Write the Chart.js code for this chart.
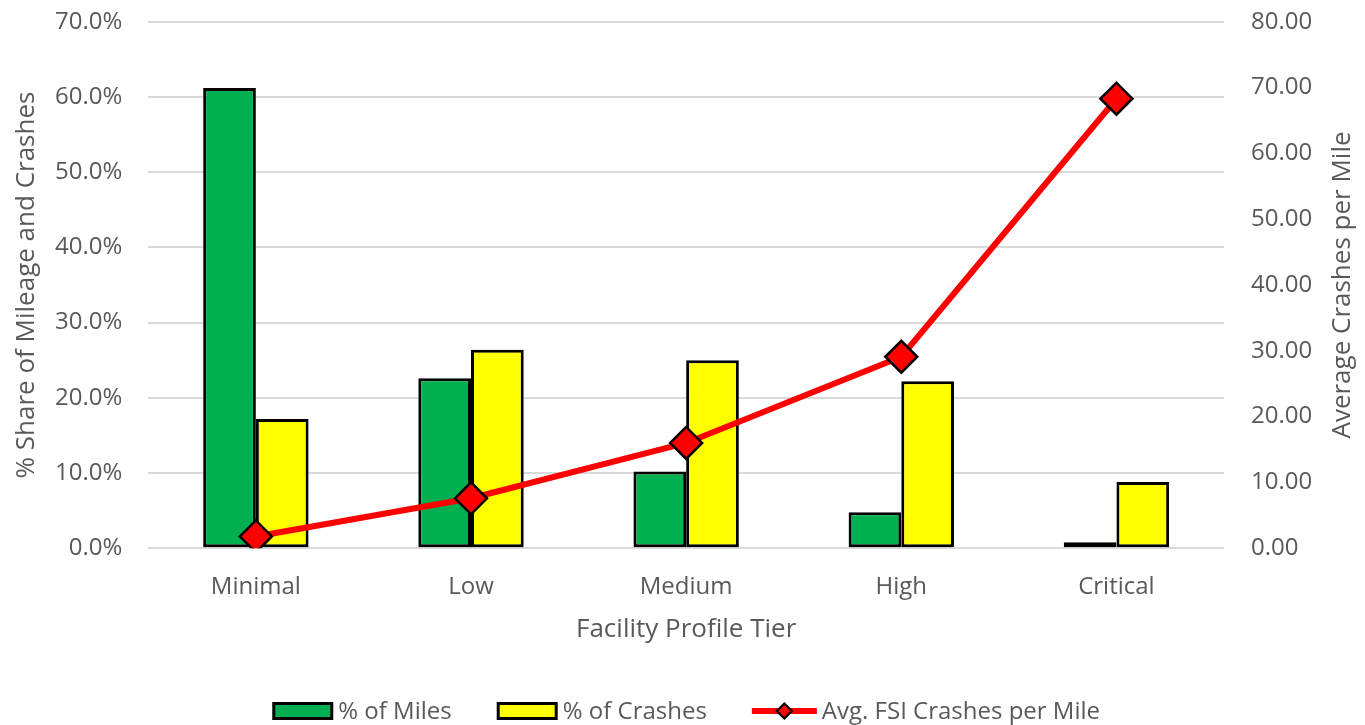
<!DOCTYPE html>
<html>
<head>
<meta charset="utf-8">
<title>Facility Profile Tier</title>
<script src="https://cdn.jsdelivr.net/npm/chart.js@4/dist/chart.umd.min.js"></script>
<style>
  html, body { margin: 0; padding: 0; background: #ffffff; }
  #wrap { width: 1365px; height: 725px; }
</style>
</head>
<body>
<div id="wrap"><canvas id="chart" width="1365" height="725"></canvas></div>
<script>
// Categories and series
const tiers = ['Minimal', 'Low', 'Medium', 'High', 'Critical'];
const pctMiles = [61.2, 22.6, 10.2, 4.8, 0.8];        // % of Miles
const pctCrashes = [17.2, 26.4, 25.0, 22.2, 8.8];     // % of Crashes
const fsiPerMile = [1.8, 7.6, 16.0, 29.1, 68.3];      // Avg. FSI Crashes per Mile
const seriesNames = ['% of Miles', '% of Crashes', 'Avg. FSI Crashes per Mile'];
const axisTitles = {
  left: '% Share of Mileage and Crashes',
  right: 'Average Crashes per Mile',
  bottom: 'Facility Profile Tier'
};

const GREEN = '#00B050';
const YELLOW = '#FFFF00';
const RED = '#FF0000';
const TEXT = '#595959';
const GRID = '#D9D9D9';
const FONT = "'Open Sans', 'Noto Sans', sans-serif";
const TITLE_SIZE = 26;

Chart.defaults.font.family = FONT;
Chart.defaults.font.size = 24;
Chart.defaults.color = TEXT;

// Right-hand axis title, read bottom-to-top like the left one
const rightTitlePlugin = {
  id: 'rightTitle',
  afterDraw(chart) {
    const s = chart.scales.y1;
    const ctx = chart.ctx;
    ctx.save();
    ctx.font = TITLE_SIZE + 'px ' + FONT;
    ctx.fillStyle = TEXT;
    ctx.textAlign = 'center';
    ctx.textBaseline = 'middle';
    ctx.translate(s.right - 22, (s.top + s.bottom) / 2);
    ctx.rotate(-Math.PI / 2);
    ctx.fillText(axisTitles.right, 0, 0);
    ctx.restore();
  }
};

// Legend row under the axis title: outlined boxes for bars, line + diamond for the line
const legendPlugin = {
  id: 'bottomLegend',
  afterDraw(chart) {
    const ctx = chart.ctx;
    const ds = chart.data.datasets;
    const rowY = 711;
    const boxW = 61, boxH = 18, gap = 5, spacing = 45;
    ctx.save();
    ctx.font = '24px ' + FONT;
    ctx.textBaseline = 'middle';
    const widths = ds.map(d => ctx.measureText(d.label).width);
    const swW = ds.map(d => d.type === 'line' ? 65 : boxW);
    let total = 0;
    ds.forEach((d, i) => { total += swW[i] + gap + widths[i] + (i < ds.length - 1 ? spacing : 0); });
    let x = (chart.chartArea.left + chart.chartArea.right) / 2 - total / 2;
    ds.forEach((d, i) => {
      if (d.type === 'line') {
        ctx.strokeStyle = d.borderColor;
        ctx.lineWidth = 6;
        ctx.beginPath(); ctx.moveTo(x, rowY); ctx.lineTo(x + swW[i], rowY); ctx.stroke();
        const cx = x + swW[i] / 2, r = 7.5;
        ctx.beginPath();
        ctx.moveTo(cx, rowY - r); ctx.lineTo(cx + r, rowY); ctx.lineTo(cx, rowY + r); ctx.lineTo(cx - r, rowY);
        ctx.closePath();
        ctx.fillStyle = d.pointBackgroundColor; ctx.fill();
        ctx.lineWidth = 2.2; ctx.strokeStyle = '#000000'; ctx.stroke();
      } else {
        ctx.fillStyle = '#000000';
        ctx.fillRect(x, rowY - boxH / 2, boxW, boxH);
        ctx.fillStyle = d.backgroundColor;
        ctx.fillRect(x + 3, rowY - boxH / 2 + 3, boxW - 6, boxH - 6);
      }
      x += swW[i] + gap;
      ctx.fillStyle = TEXT;
      ctx.textAlign = 'left';
      ctx.fillText(d.label, x, rowY + 1);
      x += widths[i] + spacing;
    });
    ctx.restore();
  }
};

new Chart(document.getElementById('chart'), {
  type: 'bar',
  data: {
    labels: tiers,
    datasets: [
      {
        label: seriesNames[0],
        data: pctMiles,
        backgroundColor: GREEN,
        borderColor: '#000000',
        borderWidth: 3,
        borderSkipped: false,
        yAxisID: 'y',
        order: 2,
        categoryPercentage: 0.49,
        barPercentage: 1.0
      },
      {
        label: seriesNames[1],
        data: pctCrashes,
        backgroundColor: YELLOW,
        borderColor: '#000000',
        borderWidth: 3,
        borderSkipped: false,
        yAxisID: 'y',
        order: 2,
        categoryPercentage: 0.49,
        barPercentage: 1.0
      },
      {
        type: 'line',
        label: seriesNames[2],
        data: fsiPerMile,
        borderColor: RED,
        borderWidth: 6,
        tension: 0,
        pointStyle: 'rectRot',
        pointRadius: 16,
        pointHoverRadius: 16,
        pointBackgroundColor: RED,
        pointBorderColor: '#000000',
        pointBorderWidth: 2.5,
        yAxisID: 'y1',
        order: 1
      }
    ]
  },
  plugins: [rightTitlePlugin, legendPlugin],
  options: {
    responsive: false,
    animation: false,
    layout: { padding: { top: 21.7, left: 0, right: 0, bottom: 0 } },
    plugins: {
      tooltip: { enabled: false },
      legend: { display: false }
    },
    scales: {
      x: {
        grid: { display: false, drawTicks: false },
        border: { display: false },
        ticks: { padding: 24, color: TEXT, font: { size: 24 } },
        title: {
          display: true,
          text: axisTitles.bottom,
          color: TEXT,
          font: { size: TITLE_SIZE },
          padding: { top: 16, bottom: 79.4 }
        },
        afterFit: (scale) => { scale.height = 176.7; }
      },
      y: {
        position: 'left',
        min: 0,
        max: 70,
        grid: { color: GRID, lineWidth: 2, drawTicks: true, tickLength: 26, tickColor: 'rgba(0,0,0,0)' },
        border: { display: false },
        ticks: {
          stepSize: 10,
          padding: 0,
          color: TEXT,
          font: { size: 24 },
          callback: (v) => v.toFixed(1) + '%'
        },
        title: {
          display: true,
          text: axisTitles.left,
          color: TEXT,
          font: { size: TITLE_SIZE },
          padding: { top: 11.4, bottom: 0 }
        },
        afterFit: (scale) => { scale.width = 148.3; }
      },
      y1: {
        position: 'right',
        min: 0,
        max: 80,
        grid: { display: false, drawTicks: true, tickLength: 27 },
        border: { display: false },
        ticks: {
          stepSize: 10,
          padding: 0,
          color: TEXT,
          font: { size: 24 },
          callback: (v) => v.toFixed(2)
        },
        title: { display: false },
        afterFit: (scale) => { scale.width = 141; }
      }
    }
  }
});
</script>
</body>
</html>
